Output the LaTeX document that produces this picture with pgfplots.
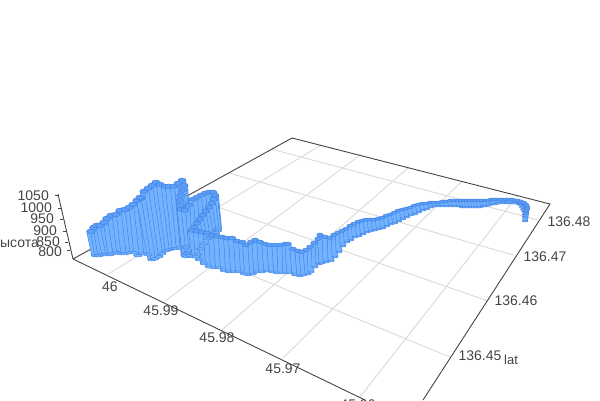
\documentclass[border=0pt]{standalone}
\usepackage{pgfplots}
\pgfplotsset{compat=1.18}
\usepackage{fontspec}
\setmainfont{Liberation Sans}
\definecolor{axisgray}{HTML}{444444}
\definecolor{gridgray}{HTML}{D9D9D9}
\definecolor{wall}{HTML}{72B3FF}
\definecolor{capfill}{HTML}{5C9FF8}
\definecolor{tubeline}{HTML}{4483E4}
\pgfplotsset{
  framelines/.style={axisgray,line width=0.9pt,forget plot},
  floorlines/.style={gridgray,line width=0.9pt,forget plot},
  column/.style={forget plot},
  topdisc/.style={forget plot,only marks,mark=*,
    mark options={yscale=0.55,draw=tubeline,line width=0.5pt,fill=capfill}},
  footdisc/.style={forget plot,only marks,mark=*,
    mark options={yscale=0.3,draw=tubeline,line width=0.4pt,fill=wall}},
}
\tikzset{lbl/.style={font=\fontsize{14}{16}\selectfont,text=axisgray,inner sep=0pt}}
% top x/top y/bottom x/bottom y of each column along the track, read in picture pixels
\def\track{91/229/96/257,94/225/99/257,97/223/102/256,100/223/106/256,104/220/110/256,
107/216/112/255,111/213/117/254,116/212/121/255,120/208/125/255,125/207/130/254,
129/205/134/254,133/202/138/257,137/198/143/255,141/196/148/256,
140/195/152/261,144/189/155/260,148/186/159/258,152/183/162/255,156/180/166/252,
160/182/169/251,165/184/173/250,169/184/176/250,174/184/180/249,178/181/184/248,182/178/186/248,
184/183/188/252,183/188/187/254,181/193/186/255,180/198/185/256,180/203/185/257,181/207/186/258,
185/208/190/257,189/203/193/258,193/197/197/257,197/195/200/250,201/193/204/245,205/191/208/240,
209/190/213/235,213/190/217/232,
215/193/218/230,214/197/218/232,212/201/216/234,209/205/213/236,206/209/210/238,203/213/207/240,
200/217/204/245,197/221/201/250,194/225/198/255,192/228/196/258,
197/229/199/261,202/230/204/265,207/231/209/268,212/233/214/269,217/234/219/269,
222/235/224/272,227/236/229/273,232/236/234/273,237/239/239/273,242/240/244/275,246/243/248/276,
251/240/253/275,255/238/257/273,260/240/262/273,265/242/267/272,270/243/272/273,275/243/277/274,
280/243/281/274,285/242/286/274,288/242/290/274,293/247/295/276,298/249/300/277,302/250/304/276,
306/248/308/275,310/245/311/273,314/241/315/268,318/237/319/265,320/233/322/264,325/235/326/263,
330/236/331/262,334/233/335/258,338/231/339/253,342/229/343/247,346/227/347/243,350/224/351/241,
354/222/355/238,358/220/359/237,362/219/363/235,366/218/367/233,370/218/371/232,374/218/375/231,
378/217/379/230,382/216/383/229,386/214/387/227,390/213/391/225,394/211/395/224,398/209/399/222,
402/208/403/220,406/207/407/218,410/206/411/216,414/204/415/215,418/203/419/213,422/202/423/211,
426/202/427/210,430/201/431/208,434/201/435/207,438/201/439/207,442/200/443/207,446/200/447/207,
450/199/451/207,454/199/455/207,458/199/459/207,461/199/462/208,464/199/465/208,467/199/468/208,
470/199/471/208,473/199/474/208,476/199/477/208,479/199/480/208,482/199/483/207,485/199/486/207,
488/199/489/206,491/198/492/205,494/198/495/205,497/198/498/204,500/198/501/204,503/198/504/203,
506/198/507/204,509/198/510/204,512/198/513/204,515/199/516/204,518/199/519/205,521/200/521/206,
524/201/522/208,526/203/523/210,527/205/524/212,527/207/525/215,526/209/525/218,526/212/525/222}
\begin{document}
\begin{tikzpicture}
\path[clip,use as bounding box] (0,0) rectangle (600pt,400pt);
\begin{axis}[
  at={(0,0)},anchor=south west,
  width=600pt,height=400pt,scale only axis,
  xmin=0,xmax=600,ymin=0,ymax=400,
  y dir=reverse,
  hide axis,
  clip=false,
]
% grid on the floor, longitude
\addplot[floorlines] coordinates {(108,274) (321,145)};
\addplot[floorlines] coordinates {(165,301) (360,155)};
\addplot[floorlines] coordinates {(222,330) (408,168)};
\addplot[floorlines] coordinates {(283,358) (462,181)};
\addplot[floorlines] coordinates {(360,397) (518,195)};
% grid on the floor, latitude
\addplot[floorlines] coordinates {(132,226) (450,357)};
\addplot[floorlines] coordinates {(186,196) (488,301)};
\addplot[floorlines] coordinates {(229,173) (513,255)};
\addplot[floorlines] coordinates {(271,149) (538,220)};
% frame
\addplot[framelines] coordinates {(73,259) (292,138) (550,204) (423,400)};
\addplot[framelines] coordinates {(73,259) (365,400)};
\addplot[framelines] coordinates {(73,259) (58,194)};
% ticks of the height axis
\addplot[framelines,unbounded coords=jump] coordinates {
  (55,195) (58,195) (nan,nan)
  (58,208) (61,208) (nan,nan)
  (60,219) (63,219) (nan,nan)
  (63,231) (66,231) (nan,nan)
  (65,242) (68,242) (nan,nan)
  (67,250) (70,250)};

% the tube: one column per track point, bottom disc, wall, top disc
\foreach \xt/\yt/\xb/\yb in \track {
  \pgfmathsetmacro\d{max(5.5,9-(\xt-87)*3.5/313)}
  \pgfmathsetmacro\r{\d/2}
  \pgfmathsetmacro\inner{\d-1.1}
  \pgfmathsetmacro\ya{\yt+0.55*\r}
  \pgfmathsetmacro\yc{max(\yb-0.3*\r,\ya)}
  \edef\drawcolumn{
    \noexpand\addplot[footdisc,mark size=\r pt] coordinates {(\xb,\yc)};
    \noexpand\addplot[column,tubeline,line width=\d pt] coordinates {(\xt,\ya) (\xb,\yc)};
    \noexpand\addplot[column,wall,line width=\inner pt] coordinates {(\xt,\ya) (\xb,\yc)};
    \noexpand\addplot[topdisc,mark size=\r pt] coordinates {(\xt,\ya)};
  }
  \drawcolumn
}

\node[lbl,anchor=east] at (axis cs:49,196) {1050};
\node[lbl,anchor=east] at (axis cs:52,208) {1000};
\node[lbl,anchor=east] at (axis cs:54,219) {950};
\node[lbl,anchor=east] at (axis cs:57,231) {900};
\node[lbl,anchor=east] at (axis cs:60,242) {850};
\node[lbl,anchor=east] at (axis cs:62,252) {800};
\node[lbl,anchor=east] at (axis cs:39,244) {высота};
\node[lbl] at (axis cs:110,287) {46};
\node[lbl] at (axis cs:161,311) {45.99};
\node[lbl] at (axis cs:217,338) {45.98};
\node[lbl] at (axis cs:283,369) {45.97};
\node[lbl] at (axis cs:358,405) {45.96};
\node[lbl] at (axis cs:569,222) {136.48};
\node[lbl] at (axis cs:545,257) {136.47};
\node[lbl] at (axis cs:516,301) {136.46};
\node[lbl] at (axis cs:480,356) {136.45};
\node[lbl,font=\fontsize{13}{15}\selectfont] at (axis cs:511,360) {lat};
\end{axis}
\end{tikzpicture}
\end{document}
